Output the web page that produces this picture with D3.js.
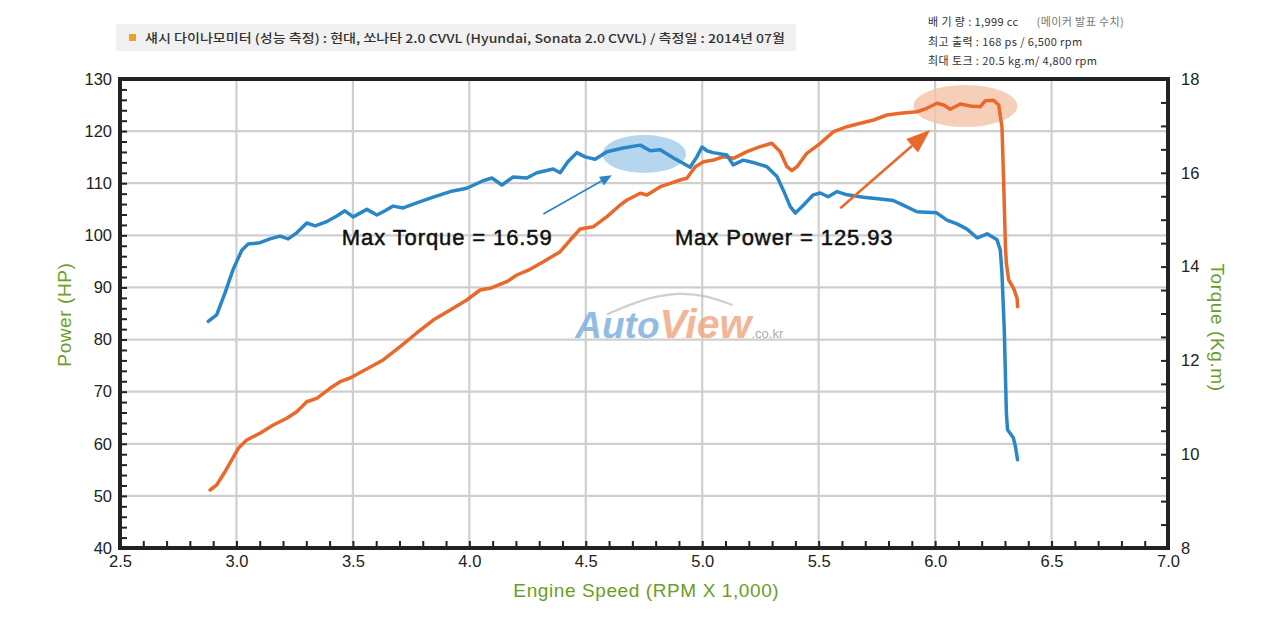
<!DOCTYPE html>
<html>
<head>
<meta charset="utf-8">
<script src="https://cdn.jsdelivr.net/npm/d3@7"></script>
<style>
  body { margin: 0; background: #fff; }
  svg { display: block; }
</style>
</head>
<body>
<div id="chart"></div>
<script>
// torque curve (Kg.m) against engine speed (x1000 rpm)
const rpmTorque = [2.879, 2.915, 2.951, 2.985, 3.023, 3.050, 3.101, 3.144, 3.187, 3.222, 3.259, 3.302, 3.338, 3.388, 3.431, 3.466, 3.501, 3.560, 3.603, 3.638, 3.673, 3.716, 3.774, 3.845, 3.918, 3.989, 4.059, 4.097, 4.140, 4.188, 4.247, 4.290, 4.360, 4.390, 4.424, 4.462, 4.497, 4.540, 4.591, 4.661, 4.734, 4.777, 4.820, 4.875, 4.948, 4.977, 4.999, 5.020, 5.047, 5.106, 5.133, 5.176, 5.219, 5.278, 5.321, 5.348, 5.378, 5.400, 5.434, 5.477, 5.507, 5.541, 5.579, 5.622, 5.692, 5.765, 5.820, 5.863, 5.922, 6.005, 6.051, 6.094, 6.137, 6.181, 6.223, 6.266, 6.280, 6.287, 6.297, 6.306, 6.311, 6.336, 6.345, 6.354];
const torque = [12.83, 12.97, 13.44, 13.93, 14.35, 14.48, 14.51, 14.59, 14.65, 14.59, 14.72, 14.93, 14.87, 14.96, 15.08, 15.19, 15.06, 15.22, 15.10, 15.19, 15.29, 15.25, 15.36, 15.48, 15.60, 15.67, 15.83, 15.89, 15.74, 15.91, 15.89, 16.00, 16.08, 16.00, 16.24, 16.43, 16.34, 16.29, 16.45, 16.53, 16.59, 16.47, 16.49, 16.32, 16.12, 16.34, 16.55, 16.47, 16.43, 16.38, 16.17, 16.27, 16.22, 16.13, 15.92, 15.63, 15.28, 15.14, 15.31, 15.53, 15.57, 15.49, 15.60, 15.53, 15.48, 15.44, 15.41, 15.31, 15.17, 15.15, 14.99, 14.91, 14.80, 14.61, 14.70, 14.57, 14.35, 13.86, 12.65, 10.88, 10.52, 10.35, 10.16, 9.88];

// power curve (HP)
const rpmPower = [2.887, 2.915, 2.951, 2.980, 3.008, 3.044, 3.101, 3.158, 3.216, 3.259, 3.302, 3.345, 3.402, 3.445, 3.488, 3.630, 3.703, 3.774, 3.845, 3.918, 3.989, 4.046, 4.089, 4.161, 4.204, 4.261, 4.318, 4.390, 4.433, 4.476, 4.533, 4.591, 4.648, 4.677, 4.734, 4.763, 4.820, 4.863, 4.905, 4.934, 4.970, 5.006, 5.049, 5.092, 5.134, 5.192, 5.249, 5.299, 5.335, 5.364, 5.385, 5.407, 5.449, 5.507, 5.564, 5.622, 5.679, 5.736, 5.793, 5.851, 5.922, 5.965, 6.008, 6.037, 6.065, 6.108, 6.151, 6.194, 6.216, 6.251, 6.273, 6.287, 6.294, 6.302, 6.306, 6.316, 6.337, 6.352, 6.354];
const power = [51.13, 52.09, 54.64, 56.89, 59.13, 60.72, 62.01, 63.60, 64.89, 66.16, 68.07, 68.73, 70.64, 71.91, 72.62, 76.08, 78.63, 81.26, 83.75, 85.67, 87.59, 89.51, 89.83, 91.10, 92.39, 93.48, 94.94, 96.86, 99.10, 101.21, 101.66, 103.58, 105.82, 106.78, 108.07, 107.74, 109.33, 109.98, 110.62, 110.94, 113.17, 114.13, 114.46, 115.09, 114.78, 116.05, 117.01, 117.66, 116.05, 113.17, 112.40, 113.17, 115.74, 117.66, 119.89, 120.85, 121.50, 122.13, 123.09, 123.42, 123.72, 124.38, 125.34, 125.01, 124.19, 125.20, 124.82, 124.68, 125.84, 125.93, 125.01, 120.85, 110.62, 97.82, 94.63, 91.43, 89.83, 87.92, 86.30];

const rpmTicks = [2.5, 3.0, 3.5, 4.0, 4.5, 5.0, 5.5, 6.0, 6.5, 7.0];
const hpTicks = [40, 50, 60, 70, 80, 90, 100, 110, 120, 130];
const tqTicks = [8, 10, 12, 14, 16, 18];

const title = "섀시 다이나모미터 (성능 측정)  :  현대, 쏘나타 2.0 CVVL  (Hyundai, Sonata 2.0 CVVL) / 측정일 : 2014년 07월";
const specs = [
  ["배 기 량 : 1,999 cc", "(메이커 발표 수치)"],
  ["최고 출력 : 168 ps / 6,500 rpm", ""],
  ["최대 토크 : 20.5 kg.m/ 4,800 rpm", ""]
];

const width = 1280, height = 621;
const margin = { top: 79, right: 112, bottom: 73, left: 120 };
const w = width - margin.left - margin.right;
const h = height - margin.top - margin.bottom;

const blue = "#2a86c7", orange = "#e8692b", green = "#6a9e24", ink = "#222";
const font = "'Liberation Sans', Arial, sans-serif";
const kfont = "'Noto Sans CJK KR', 'Noto Sans', sans-serif";

const x = d3.scaleLinear().domain([2.5, 7.0]).range([0, w]);
const yHp = d3.scaleLinear().domain([40, 130]).range([h, 0]);
const yTq = d3.scaleLinear().domain([8, 18]).range([h, 0]);

const svg = d3.select("#chart").append("svg")
  .attr("width", width).attr("height", height);

// header banner
const banner = svg.append("g");
banner.append("rect")
  .attr("x", 116).attr("y", 24).attr("width", 680).attr("height", 27)
  .attr("fill", "#f1f1f1");
banner.append("rect")
  .attr("x", 129).attr("y", 34).attr("width", 7).attr("height", 7)
  .attr("fill", "#f0a020");
banner.append("text")
  .attr("x", 145).attr("y", 42.5)
  .attr("font-family", kfont).attr("font-size", 12).attr("font-weight", 500)
  .attr("fill", "#333").attr("textLength", 640).attr("lengthAdjust", "spacingAndGlyphs")
  .text(title);

const spec = svg.append("g").attr("font-family", kfont).attr("font-size", 11)
  .attr("letter-spacing", 0.4).attr("fill", "#333");
specs.forEach((s, i) => {
  const t = spec.append("text").attr("x", 928).attr("y", 26 + i * 19.5);
  t.append("tspan").text(s[0]);
  if (s[1]) t.append("tspan").attr("fill", "#777").attr("dx", 18).text(s[1]);
});

const g = svg.append("g").attr("transform", `translate(${margin.left},${margin.top})`);

// grid
g.append("g").selectAll("line").data(rpmTicks.slice(1, -1)).join("line")
  .attr("x1", d => x(d)).attr("x2", d => x(d)).attr("y1", 0).attr("y2", h)
  .attr("stroke", "#cfcfcf").attr("stroke-width", 2.2);
g.append("g").selectAll("line").data(hpTicks.slice(1, -1)).join("line")
  .attr("x1", 0).attr("x2", w).attr("y1", d => yHp(d)).attr("y2", d => yHp(d))
  .attr("stroke", "#cfcfcf").attr("stroke-width", 2.2);

// watermark
const wm = g.append("g").attr("opacity", 0.8);
wm.append("path")
  .datum([[4.59, 12.98], [4.75, 13.32], [4.9, 13.45], [5.02, 13.38], [5.13, 13.18]])
  .attr("d", d3.line().x(d => x(d[0])).y(d => yTq(d[1])).curve(d3.curveBasis))
  .attr("fill", "none").attr("stroke", "#c4c4c4").attr("stroke-width", 2.2);
const wt = wm.append("text")
  .attr("x", x(4.455)).attr("y", yHp(80.3))
  .attr("font-family", font).attr("font-weight", 700).attr("font-style", "italic")
  .attr("font-size", 37).attr("letter-spacing", 0);
wt.append("tspan").attr("fill", "#78acdb").text("Auto");
wt.append("tspan").attr("fill", "#f0a37e").attr("font-size", 41).text("View");
wt.append("tspan").attr("fill", "#999").attr("font-size", 13).attr("font-style", "normal")
  .attr("font-weight", 400).text(".co.kr");

// highlight ellipses
g.append("ellipse")
  .attr("cx", x(4.751)).attr("cy", yTq(16.40))
  .attr("rx", x(4.751 + 0.18) - x(4.751)).attr("ry", yTq(16.0) - yTq(16.405))
  .attr("fill", "#9ec8ea").attr("opacity", 0.75);
g.append("ellipse")
  .attr("cx", x(6.13)).attr("cy", yHp(124.82))
  .attr("rx", x(6.13 + 0.223) - x(6.13)).attr("ry", yHp(120.79) - yHp(124.82))
  .attr("fill", "#f5c2a6").attr("opacity", 0.8);

// curves
const lineTq = d3.line().x((d, i) => x(rpmTorque[i])).y(d => yTq(d));
const lineHp = d3.line().x((d, i) => x(rpmPower[i])).y(d => yHp(d));
g.append("path").datum(power).attr("d", lineHp)
  .attr("fill", "none").attr("stroke", orange).attr("stroke-width", 3.5)
  .attr("stroke-linejoin", "round").attr("stroke-linecap", "round");
g.append("path").datum(torque).attr("d", lineTq)
  .attr("fill", "none").attr("stroke", blue).attr("stroke-width", 3.5)
  .attr("stroke-linejoin", "round").attr("stroke-linecap", "round");

// arrows
function arrow(x1, y1, x2, y2, color, width, headLen, headW) {
  const ang = Math.atan2(y2 - y1, x2 - x1);
  const bx = x2 - headLen * Math.cos(ang), by = y2 - headLen * Math.sin(ang);
  g.append("line").attr("x1", x1).attr("y1", y1).attr("x2", bx).attr("y2", by)
    .attr("stroke", color).attr("stroke-width", width);
  const px = -Math.sin(ang) * headW, py = Math.cos(ang) * headW;
  g.append("path")
    .attr("d", `M${x2},${y2}L${bx + px},${by + py}L${bx - px},${by - py}Z`)
    .attr("fill", color);
}
arrow(x(4.318), yTq(15.12), x(4.612), yTq(15.95), blue, 1.8, 12, 5);
arrow(x(5.593), yHp(105.19), x(5.979), yHp(120.21), orange, 2.6, 24, 9);

// annotations
const note = (r, txt) => g.append("text").attr("x", x(r)).attr("y", yHp(98.1))
  .attr("text-anchor", "middle").attr("font-family", font).attr("font-size", 22)
  .attr("letter-spacing", 0.9).attr("fill", "#111")
  .attr("stroke", "#111").attr("stroke-width", 0.5)
  .text(txt);
note(3.905, "Max Torque = 16.59");
note(5.352, "Max Power = 125.93");

// axes: minor ticks
const tickStyle = sel => {
  sel.select(".domain").remove();
  sel.selectAll(".tick line").attr("stroke", ink).attr("stroke-width", 2);
};
g.append("g").call(d3.axisLeft(yHp).tickValues(d3.range(40, 131, 2)).tickSize(-7).tickFormat(""))
  .call(tickStyle);
g.append("g").attr("transform", `translate(0,${h})`)
  .call(d3.axisBottom(x).tickValues(d3.range(25, 71).map(d => d / 10)).tickSize(-7).tickFormat(""))
  .call(tickStyle);
g.append("g").attr("transform", `translate(${w},0)`)
  .call(d3.axisRight(yTq).tickValues(d3.range(8, 18.01, 0.5)).tickSize(-7).tickFormat(""))
  .call(tickStyle);

// tick labels
const labelStyle = sel => {
  sel.select(".domain").remove();
  sel.selectAll(".tick line").remove();
  sel.selectAll(".tick text").attr("font-family", font).attr("font-size", 16.5).attr("fill", ink);
};
g.append("g").call(d3.axisLeft(yHp).tickValues(hpTicks).tickSize(0).tickPadding(8))
  .call(labelStyle);
g.append("g").attr("transform", `translate(0,${h})`)
  .call(d3.axisBottom(x).tickValues(rpmTicks).tickSize(0).tickPadding(7).tickFormat(d3.format(".1f")))
  .call(labelStyle);
g.append("g").attr("transform", `translate(${w},0)`)
  .call(d3.axisRight(yTq).tickValues(tqTicks).tickSize(0).tickPadding(13))
  .call(labelStyle);

// frame
g.append("rect").attr("x", 0).attr("y", 0).attr("width", w).attr("height", h)
  .attr("fill", "none").attr("stroke", ink).attr("stroke-width", 4);

// axis titles
const axisTitle = sel => sel.attr("text-anchor", "middle").attr("font-family", font)
  .attr("font-size", 19).attr("letter-spacing", 0.6).attr("fill", green);
svg.append("text")
  .attr("transform", `translate(71,${margin.top + yHp(84.8)}) rotate(-90)`)
  .call(axisTitle).text("Power (HP)");
svg.append("text")
  .attr("transform", `translate(1211,${margin.top + yTq(12.7)}) rotate(90)`)
  .call(axisTitle).text("Torque (Kg.m)");
svg.append("text")
  .attr("x", margin.left + x(4.76)).attr("y", 597)
  .call(axisTitle).text("Engine Speed (RPM X 1,000)");
</script>
</body>
</html>
